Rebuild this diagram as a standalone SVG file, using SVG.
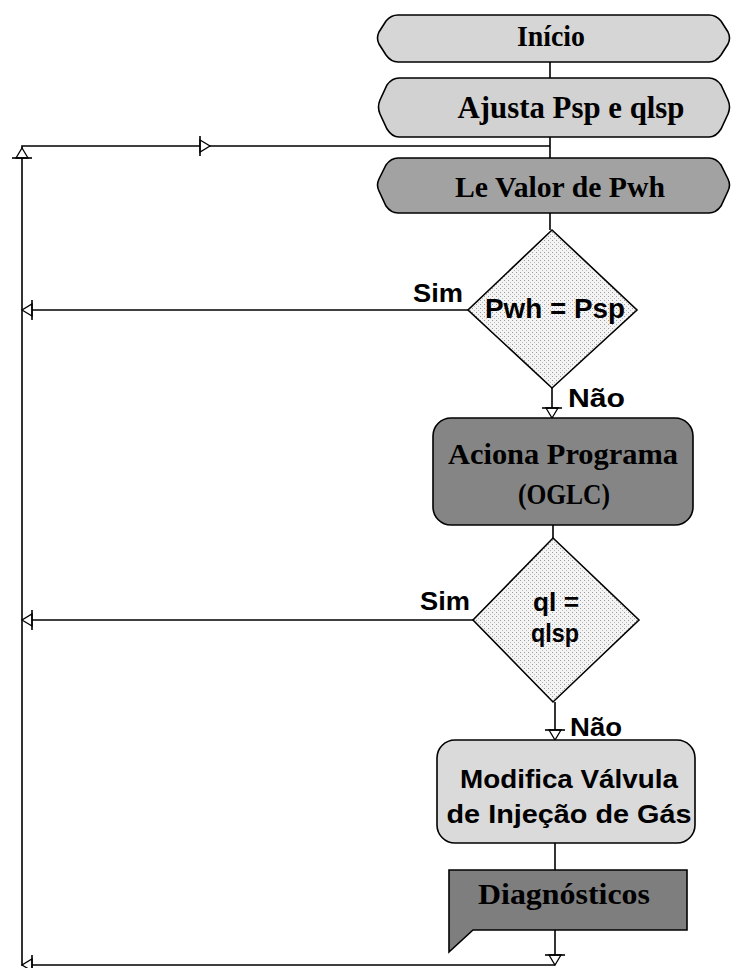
<svg xmlns="http://www.w3.org/2000/svg" xmlns:xlink="http://www.w3.org/1999/xlink" width="732" height="968" viewBox="0 0 732 968">
  <style>
    .edge { fill: none; stroke: #000; stroke-width: 1.6; }
    .arrow { fill: #fff; stroke: #000; stroke-width: 1.3; }
    .node { stroke: #000; stroke-width: 1.6; }
    .serif { font-family: "Liberation Serif", "Times New Roman", serif; font-weight: bold; fill: #000; text-anchor: middle; }
    .sans { font-family: "Liberation Sans", Arial, sans-serif; font-weight: bold; fill: #000; text-anchor: middle; }
    .lbl { font-family: "Liberation Sans", Arial, sans-serif; font-weight: bold; fill: #000; }
  </style>
  <defs>
    <!-- dotted fill used by the decision diamonds -->
    <pattern id="dots" width="4" height="4" patternUnits="userSpaceOnUse">
      <rect width="4" height="4" fill="#f4f4f4"/>
      <rect x="0" y="0" width="1" height="1" fill="#9a9a9a"/>
      <rect x="2" y="2" width="1" height="1" fill="#b8b8b8"/>
    </pattern>
    <!-- open arrowhead pointing right, tip at the origin -->
    <g id="ah">
      <path class="arrow" d="M-10,-6 L0,0 L-10,6 Z"/>
      <path class="edge" d="M-10,-10 V10"/>
    </g>
  </defs>

  <!-- connectors -->
  <g id="connectors">
    <path class="edge" d="M550,62 V78"/>
    <path class="edge" d="M550,137 V158"/>
    <path class="edge" d="M550,213 V230"/>
    <path class="edge" d="M552,388 V418"/>
    <path class="edge" d="M553,525 V538"/>
    <path class="edge" d="M555,702 V740"/>
    <path class="edge" d="M555,843 V870"/>
    <path class="edge" d="M555,930 V965"/>
    <!-- return loop -->
    <path class="edge" d="M555,965 H22 V146 H550"/>
    <path class="edge" d="M468,310 H22"/>
    <path class="edge" d="M473,620 H22"/>
    <!-- arrowheads -->
    <use xlink:href="#ah" transform="translate(210,146)"/>
    <use xlink:href="#ah" transform="translate(22,148) rotate(-90)"/>
    <use xlink:href="#ah" transform="translate(22,310) rotate(180)"/>
    <use xlink:href="#ah" transform="translate(22,620) rotate(180)"/>
    <use xlink:href="#ah" transform="translate(22,965) rotate(180)"/>
    <use xlink:href="#ah" transform="translate(552,418) rotate(90)"/>
    <use xlink:href="#ah" transform="translate(555,740) rotate(90)"/>
    <use xlink:href="#ah" transform="translate(555,965) rotate(90)"/>
    <!-- branch labels -->
    <text class="lbl" x="413" y="302" font-size="25" textLength="50" lengthAdjust="spacingAndGlyphs">Sim</text>
    <text class="lbl" x="568" y="407" font-size="25" textLength="57" lengthAdjust="spacingAndGlyphs">Não</text>
    <text class="lbl" x="420" y="610" font-size="25" textLength="50" lengthAdjust="spacingAndGlyphs">Sim</text>
    <text class="lbl" x="570" y="736" font-size="25" textLength="52" lengthAdjust="spacingAndGlyphs">Não</text>
  </g>

  <g id="inicio">
    <path class="node" fill="#d6d6d6" d="M398,15 H709 Q716,15 721,21 L728,32 Q731,38 728,44 L721,55 Q716,62 709,62 H398 Q391,62 386,55 L379,44 Q376,38 379,32 L386,21 Q391,15 398,15 Z"/>
    <text class="serif" x="551" y="46" font-size="29" textLength="68" lengthAdjust="spacingAndGlyphs">Início</text>
  </g>

  <g id="ajusta">
    <path class="node" fill="#d2d2d2" d="M399,78 H709 Q716,78 721,85 L728,100 Q731,107 728,114 L721,129 Q716,137 709,137 H399 Q392,137 387,129 L380,114 Q377,107 380,100 L387,85 Q392,78 399,78 Z"/>
    <text class="serif" x="571" y="118" font-size="31" textLength="227" lengthAdjust="spacingAndGlyphs">Ajusta Psp e qlsp</text>
  </g>

  <g id="le-valor">
    <path class="node" fill="#a2a2a2" d="M398,158 H709 Q716,158 721,165 L728,179 Q731,185 728,191 L721,206 Q716,213 709,213 H398 Q391,213 386,206 L379,191 Q376,185 379,179 L386,165 Q391,158 398,158 Z"/>
    <text class="serif" x="560" y="197" font-size="30" fill="#111" textLength="210" lengthAdjust="spacingAndGlyphs">Le Valor de Pwh</text>
  </g>

  <g id="decisao-pwh">
    <path class="node" fill="url(#dots)" stroke-width="1.3" d="M552,230 L637,310 L552,388 L468,310 Z"/>
    <text class="sans" x="555" y="318" font-size="28" textLength="140" lengthAdjust="spacingAndGlyphs">Pwh = Psp</text>
  </g>

  <g id="aciona">
    <rect class="node" fill="#858585" x="433" y="418" width="260" height="107" rx="18"/>
    <text class="serif" x="563" y="464" font-size="30" textLength="230" lengthAdjust="spacingAndGlyphs">Aciona Programa</text>
    <text class="serif" x="564" y="504" font-size="30" textLength="92" lengthAdjust="spacingAndGlyphs">(OGLC)</text>
  </g>

  <g id="decisao-ql">
    <path class="node" fill="url(#dots)" stroke-width="1.3" d="M553,538 L639,620 L553,702 L473,620 Z"/>
    <text class="sans" x="556" y="611" font-size="26" textLength="46" lengthAdjust="spacingAndGlyphs">ql =</text>
    <text class="sans" x="555" y="642" font-size="26" textLength="48" lengthAdjust="spacingAndGlyphs">qlsp</text>
  </g>

  <g id="modifica">
    <rect class="node" fill="#dadada" x="437" y="740" width="258" height="103" rx="18"/>
    <text class="sans" x="569" y="788" font-size="26" textLength="218" lengthAdjust="spacingAndGlyphs">Modifica Válvula</text>
    <text class="sans" x="569" y="823" font-size="26" textLength="245" lengthAdjust="spacingAndGlyphs">de Injeção de Gás</text>
  </g>

  <g id="diagnosticos">
    <path class="node" fill="#7e7e7e" d="M449,870 H687 V930 H473 L449,952 Z"/>
    <text class="serif" x="564" y="904" font-size="29" textLength="172" lengthAdjust="spacingAndGlyphs">Diagnósticos</text>
  </g>
</svg>
